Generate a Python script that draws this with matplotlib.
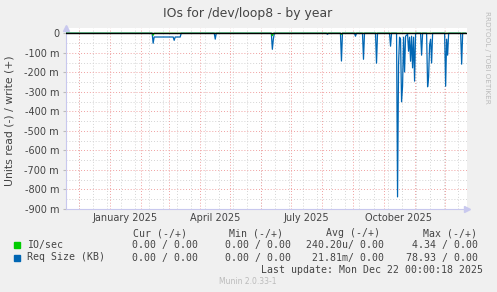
import matplotlib
matplotlib.use("Agg")
import matplotlib.pyplot as plt
import pandas as pd

W, H = 497, 292

# Req Size (KB), read side: days with a non-zero value (rest of the year is 0)
req_dates = ["2025-02-13", "2025-03-06", "2025-04-16", "2025-06-12", "2025-06-13",
             "2025-08-06", "2025-08-20", "2025-09-03", "2025-09-11", "2025-09-24",
             "2025-10-08", "2025-10-15", "2025-10-16", "2025-10-17", "2025-10-18",
             "2025-10-19", "2025-10-20", "2025-10-21", "2025-10-22", "2025-10-23",
             "2025-10-24", "2025-10-25", "2025-10-26", "2025-10-27", "2025-10-28",
             "2025-10-29", "2025-10-30", "2025-10-31", "2025-11-01", "2025-11-08",
             "2025-11-14", "2025-11-15", "2025-11-16", "2025-11-17", "2025-11-18",
             "2025-12-02", "2025-12-03", "2025-12-04", "2025-12-18"]
req_vals = [-0.051, -0.036, -0.030, -0.082, -0.030,
            -0.005, -0.142, -0.015, -0.133, -0.153,
            -0.066, -0.838, -0.160, -0.020, -0.030,
            -0.351, -0.271, -0.020, -0.198, -0.015,
            -0.010, -0.005, -0.092, -0.020, -0.143,
            -0.015, -0.177, -0.020, -0.245, -0.112,
            -0.274, -0.223, -0.060, -0.030, -0.152,
            -0.271, -0.030, -0.112, -0.158]
# flat stretch in February / March
plateau = ("2025-02-14", "2025-03-12", -0.019)

# IO/sec, read side
io_dates = ["2025-02-13", "2025-06-12", "2025-08-20"]
io_vals = [-0.010, -0.012, -0.005]

first_day, last_day = "2024-11-18", "2025-12-22"

yticks = [0, -0.1, -0.2, -0.3, -0.4, -0.5, -0.6, -0.7, -0.8, -0.9]
xlabels = ["January 2025", "April 2025", "July 2025", "October 2025"]
xlabel_pos = ["2025-01-16", "2025-04-16", "2025-07-16", "2025-10-16"]

legend_names = ["IO/sec", "Req Size (KB)"]
legend_colors = ["#00CC00", "#0066B3"]
legend_cur = ["0.00 / 0.00", "0.00 / 0.00"]
legend_min = ["0.00 / 0.00", "0.00 / 0.00"]
legend_avg = ["240.20u/ 0.00", "21.81m/ 0.00"]
legend_max = ["4.34 / 0.00", "78.93 / 0.00"]
legend_heads = ["Cur (-/+)", "Min (-/+)", "Avg (-/+)", "Max (-/+)"]

days = pd.date_range(first_day, last_day, freq="D")
req = pd.Series(0.0, index=days)
req[plateau[0]:plateau[1]] = plateau[2]
req[pd.to_datetime(req_dates)] = req_vals
io = pd.Series(0.0, index=days)
io[pd.to_datetime(io_dates)] = io_vals

BG = "#F0F0F0"
TXT = "#444444"
AXC = "#C8C8EE"

fig = plt.figure(figsize=(W / 100, H / 100), dpi=100, facecolor=BG)
ax = fig.add_axes([66 / W, 1 - 209 / H, 401 / W, 181.5 / H])
ax.set_facecolor("white")

x0 = pd.Timestamp("2024-11-18")
x1 = pd.Timestamp("2025-12-23 08:00")
ax.set_xlim(x0, x1)
ax.set_ylim(-0.9, 0.0297)

# grid: minor every 14 days / 50m, major each month / 100m
for d in pd.date_range("2024-11-17", x1, freq="14D"):
    ax.axvline(d, color="#D4D4D4", lw=0.7, ls=(0, (1, 2)), zorder=1)
for y in [v - 0.05 for v in yticks if v > -0.9]:
    ax.axhline(y, color="#D4D4D4", lw=0.7, ls=(0, (1, 2)), zorder=1)
for d in pd.date_range("2024-12-01", x1, freq="MS"):
    ax.axvline(d, color="#F0A0A0", lw=0.7, ls=(0, (1, 2)), zorder=2)
for y in yticks[1:]:
    ax.axhline(y, color="#F0A0A0", lw=0.7, ls=(0, (1, 2)), zorder=2)

ax.plot(req.index, req.values, color="#0066B3", lw=0.9, zorder=3)
ax.plot(io.index, io.values, color="#00CC00", lw=0.9, zorder=4)
ax.plot([days[0], days[-1]], [0, 0], color="black", lw=1.0, zorder=5)

for s in ["top", "right"]:
    ax.spines[s].set_visible(False)
for s in ["left", "bottom"]:
    ax.spines[s].set_color(AXC)
    ax.spines[s].set_linewidth(0.8)
ax.plot([1.0], [0], marker=">", color=AXC, ms=4, transform=ax.transAxes, clip_on=False)
ax.plot([0], [1.0], marker="^", color=AXC, ms=4, transform=ax.transAxes, clip_on=False)

ax.set_yticks(yticks)
ax.set_yticklabels(["0" if v == 0 else f"{round(v * 1000)} m" for v in yticks],
                   fontsize=7, color=TXT)
ax.tick_params(axis="y", length=2, color="#BBBBBB", pad=3)
ax.set_xticks(pd.to_datetime(xlabel_pos))
ax.set_xticklabels(xlabels, fontsize=7, color=TXT)
ax.tick_params(axis="x", length=0, pad=3)


def fx(x):
    return x / W


def fy(y):
    return 1 - y / H


fig.text(fx(248), fy(13), "IOs for /dev/loop8 - by year", ha="center", va="center",
         fontsize=8.9, color=TXT)
fig.text(fx(10), fy(121), "Units read (-) / write (+)", rotation=90, ha="center",
         va="center", fontsize=7.8, color=TXT)
fig.text(fx(487), fy(57), "RRDTOOL / TOBI OETIKER", rotation=270, ha="center",
         va="center", fontsize=5.2, color="#BBBBBB")

mono = dict(family="DejaVu Sans Mono", fontsize=7.1, color=TXT, va="center")
for head, xe in zip(legend_heads, [187, 283, 380, 477]):
    fig.text(fx(xe), fy(233.5), head, ha="right", **mono)
for i, name in enumerate(legend_names):
    y = 245.3 + i * 12.2
    fig.patches.append(plt.Rectangle((fx(14), fy(y + 3)), 6 / W, 6 / H,
                                     transform=fig.transFigure,
                                     color=legend_colors[i]))
    fig.text(fx(27), fy(y), name, ha="left", **mono)
    fig.text(fx(197.5), fy(y), legend_cur[i], ha="right", **mono)
    fig.text(fx(291), fy(y), legend_min[i], ha="right", **mono)
    fig.text(fx(384.5), fy(y), legend_avg[i], ha="right", **mono)
    fig.text(fx(477.5), fy(y), legend_max[i], ha="right", **mono)
fig.text(fx(483), fy(270), "Last update: Mon Dec 22 00:00:18 2025", ha="right", **mono)
fig.text(fx(247.5), fy(281.5), "Munin 2.0.33-1", ha="center", va="center",
         fontsize=5.5, color="#BBBBBB")

fig.savefig("out.png", dpi=100, facecolor=BG)
plt.close(fig)
